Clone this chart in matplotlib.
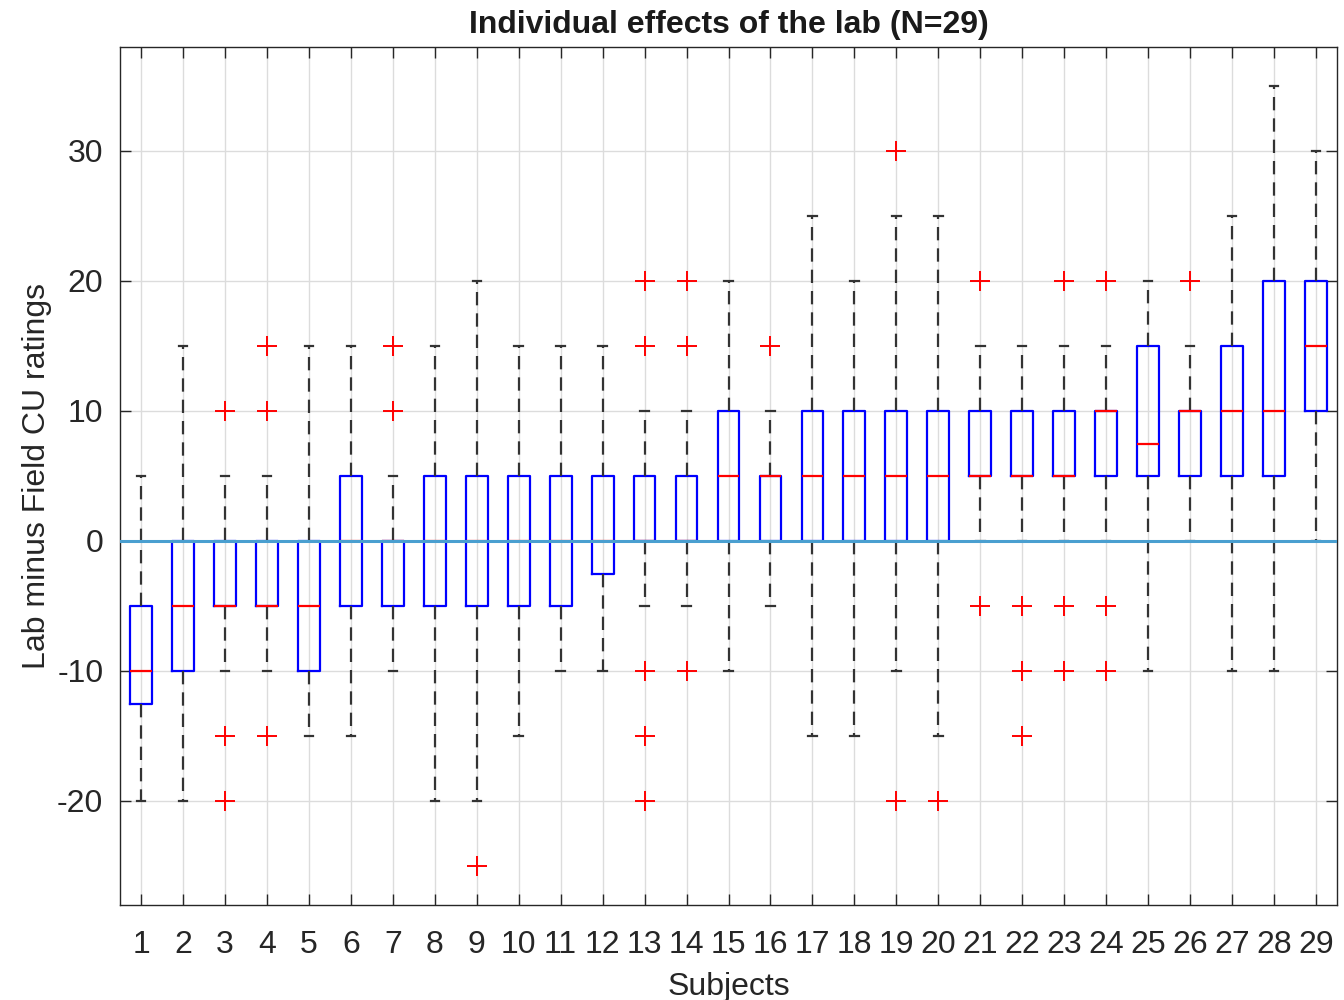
import numpy as np
import matplotlib
matplotlib.use("Agg")
import matplotlib.pyplot as plt

plt.rcParams['font.family'] = ['Liberation Sans', 'DejaVu Sans']
plt.rcParams['axes.unicode_minus'] = False

# Per-subject box statistics (lab minus field CU ratings)
subjects = list(range(1, 30))
whisk_lo = [-20, -20, -10, -10, -15, -15, -10, -20, -20, -15,
            -10, -10, -5, -5, -10, -5, -15, -15, -10, -15,
            0, 0, 0, 0, -10, 0, -10, -10, 0]
q1 = [-12.5, -10, -5, -5, -10, -5, -5, -5, -5, -5,
      -5, -2.5, 0, 0, 0, 0, 0, 0, 0, 0,
      5, 5, 5, 5, 5, 5, 5, 5, 10]
median = [-10, -5, -5, -5, -5, 0, 0, 0, 0, 0,
          0, 0, 0, 0, 5, 5, 5, 5, 5, 5,
          5, 5, 5, 10, 7.5, 10, 10, 10, 15]
q3 = [-5, 0, 0, 0, 0, 5, 0, 5, 5, 5,
      5, 5, 5, 5, 10, 5, 10, 10, 10, 10,
      10, 10, 10, 10, 15, 10, 15, 20, 20]
whisk_hi = [5, 15, 5, 5, 15, 15, 5, 15, 20, 15,
            15, 15, 10, 10, 20, 10, 25, 20, 25, 25,
            15, 15, 15, 15, 20, 15, 25, 35, 30]
outliers = [[], [], [10, -15, -20], [15, 10, -15], [], [], [15, 10], [], [-25], [],
            [], [], [20, 15, -10, -15, -20], [20, 15, -10], [], [15], [], [], [30, -20], [-20],
            [20, -5], [-5, -10, -15], [20, -5, -10], [20, -5, -10], [], [20], [], [], []]

stats = []
for i, s in enumerate(subjects):
    stats.append({
        'whislo': whisk_lo[i], 'q1': q1[i], 'med': median[i],
        'q3': q3[i], 'whishi': whisk_hi[i], 'fliers': outliers[i],
        'label': str(s),
    })

fig = plt.figure(figsize=(13.44, 10), dpi=100)
ax = fig.add_axes([0.0893, 0.095, 0.9055, 0.858])

ax.grid(True, color='#dcdcdc', linewidth=1, zorder=0)
ax.set_axisbelow(True)

ax.bxp(stats, positions=subjects, widths=0.52, showfliers=True,
       boxprops=dict(color='blue', linewidth=1.6),
       medianprops=dict(color='red', linewidth=1.6),
       whiskerprops=dict(color='#333333', linestyle=(0, (6, 3.6)), linewidth=1.6),
       capprops=dict(color='#333333', linewidth=1.6),
       capwidths=0.2,
       flierprops=dict(marker='+', markeredgecolor='red', markersize=14,
                       markeredgewidth=1.4, linestyle='none'))

ax.axhline(0, color='#4a9fd0', linewidth=2.2, zorder=5)

ax.set_xlim(0.5, 29.5)
ax.set_ylim(-28, 38)
ax.set_yticks([-20, -10, 0, 10, 20, 30])
ax.set_xticks(subjects)
ax.set_xticklabels([str(s) for s in subjects])
ax.tick_params(direction='in', top=True, right=True, length=8, width=1,
               labelsize=23, colors='#262626')
ax.tick_params(axis='x', pad=18)
ax.tick_params(axis='y', pad=12)
for sp in ax.spines.values():
    sp.set_color('#262626')
    sp.set_linewidth(1)

ax.set_title('Individual effects of the lab (N=29)', fontsize=23,
             fontweight='bold', color='#1a1a1a', pad=10)
ax.set_xlabel('Subjects', fontsize=23, color='#262626', labelpad=9)
ax.set_ylabel('Lab minus Field CU ratings', fontsize=23, color='#262626', labelpad=4)

fig.savefig('out.png', dpi=100)
